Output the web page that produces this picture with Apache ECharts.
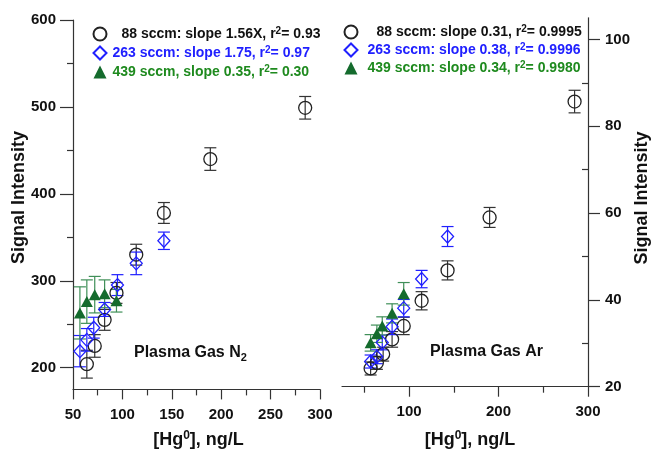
<!DOCTYPE html>
<html><head><meta charset="utf-8">
<script src="https://cdn.jsdelivr.net/npm/echarts@6/dist/echarts.min.js"></script>
<style>html,body{margin:0;padding:0;background:#fff}#c{width:655px;height:453px}</style>
</head><body><div id="c"></div>
<script>
const FONT = '"Liberation Sans", Arial, Helvetica, sans-serif';

// ---- Plasma gas N2 panel ----
const n2_88_x  = [64, 72, 82, 94, 114, 142, 189, 285];
const n2_88_y  = [204, 225, 255, 286, 330, 378, 440, 499];
const n2_88_e  = [16, 13, 12, 12, 12, 12, 13, 13];
const n2_263_x = [57, 64, 71, 82, 95, 114, 142];
const n2_263_y = [219, 232, 246, 267, 295, 320, 346];
const n2_263_e = [18, 13, 12, 8, 12, 13, 10];
const n2_439_x = [57, 64, 72, 82, 94];
const n2_439_y = [263, 276, 284, 285, 277];
const n2_439_e = [30, 25, 21, 16, 13];

// ---- Plasma gas Ar panel ----
const ar_88_x  = [57, 64, 71, 81, 94, 114, 143, 190, 285];
const ar_88_y  = [24.2, 25.5, 27.5, 30.9, 34.0, 39.8, 46.8, 59.0, 85.7];
const ar_88_e  = [1.5, 1.5, 1.6, 1.8, 2.0, 2.1, 2.2, 2.3, 2.6];
const ar_263_x = [57, 64, 70, 81, 94, 114, 143];
const ar_263_y = [25.8, 26.9, 30.2, 33.8, 38.1, 44.8, 54.6];
const ar_263_e = [1.5, 1.6, 1.7, 1.8, 2.0, 2.0, 2.3];
const ar_439_x = [57, 64, 70, 81, 94];
const ar_439_y = [30.1, 32.2, 34.0, 36.9, 41.4];
const ar_439_e = [1.9, 2.0, 2.1, 2.2, 2.6];

// ---- ticks ----
const n2_x_major = [50, 100, 150, 200, 250, 300];
const n2_x_minor = [75, 125, 175, 225, 275];
const n2_y_major = [200, 300, 400, 500, 600];
const n2_y_minor = [250, 350, 450, 550];
const ar_x_major = [100, 200, 300];
const ar_x_minor = [50, 150, 250];
const ar_y_major = [20, 40, 60, 80, 100];
const ar_y_minor = [30, 50, 70, 90];

// ---- legend texts ----
const legendText = {
  'N2 88':  '{padL2| }88 sccm: slope 1.56X, r{sup|2}= 0.93',
  'N2 263': '{padL| }263 sccm: slope 1.75, r{sup|2}= 0.97',
  'N2 439': '{padL| }439 sccm, slope 0.35, r{sup|2}= 0.30',
  'Ar 88':  '{padR2| }88 sccm: slope 0.31, r{sup|2}= 0.9995',
  'Ar 263': '{padR| }263 sccm: slope 0.38, r{sup|2}= 0.9996',
  'Ar 439': '{padR| }439 sccm: slope 0.34, r{sup|2}= 0.9980'
};

const C_BLACK = '#222', C_BLUE = '#2020ff', C_GREEN = '#146b2d', C_GREEN_ERR = '#3f8f58', C_GREEN_TXT = '#1e8a1e';

function zip3(a, b, c) { return a.map((v, i) => [v, b[i], c[i]]); }

function errRender(color) {
  return function (params, api) {
    const x = api.value(0), y = api.value(1), e = api.value(2);
    const p1 = api.coord([x, y + e]), p2 = api.coord([x, y - e]);
    const hw = 6;
    const st = { stroke: color, lineWidth: 1.2 };
    return { type: 'group', children: [
      { type: 'line', shape: { x1: p1[0], y1: p1[1], x2: p2[0], y2: p2[1] }, style: st },
      { type: 'line', shape: { x1: p1[0] - hw, y1: p1[1], x2: p1[0] + hw, y2: p1[1] }, style: st },
      { type: 'line', shape: { x1: p2[0] - hw, y1: p2[1], x2: p2[0] + hw, y2: p2[1] }, style: st }
    ]};
  };
}

const lineSt = { color: '#333', width: 1.2 };
const labelSt = { color: '#111', fontFamily: FONT, fontSize: 15, fontWeight: 'bold' };

function majorAxis(grid, pos, min, max, ticks, len, margin) {
  return {
    type: 'value', gridIndex: grid, position: pos, min: min, max: max,
    axisLine: { show: true, onZero: false, lineStyle: lineSt },
    axisTick: { show: true, length: len, customValues: ticks, lineStyle: lineSt },
    axisLabel: Object.assign({ show: true, customValues: ticks, margin: margin }, labelSt),
    splitLine: { show: false }
  };
}
function minorAxis(grid, pos, min, max, ticks, inside) {
  return {
    type: 'value', gridIndex: grid, position: pos, min: min, max: max,
    axisLine: { show: false, onZero: false },
    axisTick: { show: true, length: 6, inside: !!inside, customValues: ticks, lineStyle: lineSt },
    axisLabel: { show: false },
    splitLine: { show: false }
  };
}

function scatter(name, xi, yi, xs, ys, symbol, size, fill, border) {
  return {
    type: 'scatter', name: name, xAxisIndex: xi, yAxisIndex: yi,
    data: xs.map((v, i) => [v, ys[i]]), symbol: symbol, symbolSize: size,
    itemStyle: { color: fill, borderColor: border, borderWidth: border ? 1.3 : 0, opacity: 1 },
    z: 3
  };
}
function errSeries(xi, yi, xs, ys, es, color) {
  return { type: 'custom', xAxisIndex: xi, yAxisIndex: yi, data: zip3(xs, ys, es),
           renderItem: errRender(color), z: 2, silent: true };
}

const legendTextStyle = {
  fontFamily: FONT, fontSize: 14, fontWeight: 'bold', lineHeight: 16,
  rich: {
    sup: { fontFamily: FONT, fontSize: 10, fontWeight: 'bold', lineHeight: 10, verticalAlign: 'top' },
    padL: { width: 1 },
    padL2: { width: 10 },
    padR: { width: 5 },
    padR2: { width: 14 }
  }
};

const titleFont = { fontFamily: FONT, fontSize: 18, fontWeight: 'bold', fill: '#111' };
const richSup = { sup: { fontFamily: FONT, fontSize: 12, fontWeight: 'bold', lineHeight: 12, verticalAlign: 'top', fill: '#111' } };
const richSub = { sub: { fontFamily: FONT, fontSize: 11, fontWeight: 'bold', lineHeight: 11, verticalAlign: 'bottom', fill: '#111' } };

const option = {
  animation: false,
  backgroundColor: '#fff',
  grid: [
    { left: 73, top: 20, width: 247, height: 369.4 },
    { left: 342, top: 17.8, width: 246, height: 368.9 }
  ],
  xAxis: [
    majorAxis(0, 'bottom', 50, 300, n2_x_major, 10, 18),
    minorAxis(0, 'bottom', 50, 300, n2_x_minor),
    majorAxis(1, 'bottom', 25, 300, ar_x_major, 10, 18),
    minorAxis(1, 'bottom', 25, 300, ar_x_minor)
  ],
  yAxis: [
    majorAxis(0, 'left', 175, 600, n2_y_major, 13, 17),
    minorAxis(0, 'left', 175, 600, n2_y_minor),
    majorAxis(1, 'right', 20, 105, ar_y_major, 12, 17),
    minorAxis(1, 'right', 20, 105, ar_y_minor, true)
  ],
  legend: [
    { orient: 'vertical', left: 87.5, top: 21, itemWidth: 13, itemHeight: 13, itemGap: 3, selectedMode: false,
      data: [ { name: 'N2 88', textStyle: { color: '#111' } },
              { name: 'N2 263', textStyle: { color: C_BLUE } },
              { name: 'N2 439', textStyle: { color: C_GREEN_TXT } } ],
      formatter: n => legendText[n], textStyle: legendTextStyle },
    { orient: 'vertical', left: 338.5, top: 19, itemWidth: 13, itemHeight: 13, itemGap: 2, selectedMode: false,
      data: [ { name: 'Ar 88', textStyle: { color: '#111' } },
              { name: 'Ar 263', textStyle: { color: C_BLUE } },
              { name: 'Ar 439', textStyle: { color: C_GREEN_TXT } } ],
      formatter: n => legendText[n], textStyle: legendTextStyle }
  ],
  graphic: [
    { type: 'text', x: 19.5, y: 197.5, rotation: Math.PI / 2,
      style: Object.assign({ text: 'Signal Intensity', align: 'center', verticalAlign: 'middle' }, titleFont) },
    { type: 'text', x: 642, y: 198, rotation: Math.PI / 2,
      style: Object.assign({ text: 'Signal Intensity', align: 'center', verticalAlign: 'middle' }, titleFont) },
    { type: 'text', x: 198.5, y: 440,
      style: Object.assign({ text: '[Hg{sup|0}], ng/L', align: 'center', verticalAlign: 'middle', lineHeight: 20, rich: richSup }, titleFont) },
    { type: 'text', x: 470, y: 440,
      style: Object.assign({ text: '[Hg{sup|0}], ng/L', align: 'center', verticalAlign: 'middle', lineHeight: 20, rich: richSup }, titleFont) },
    { type: 'text', x: 134, y: 353,
      style: { text: 'Plasma Gas N{sub|2}', fontFamily: FONT, fontSize: 16, fontWeight: 'bold', fill: '#111',
               lineHeight: 20, align: 'left', verticalAlign: 'middle', rich: richSub } },
    { type: 'text', x: 430, y: 352,
      style: { text: 'Plasma Gas Ar', fontFamily: FONT, fontSize: 16, fontWeight: 'bold', fill: '#111',
               align: 'left', verticalAlign: 'middle' } }
  ],
  series: [
    errSeries(0, 0, n2_88_x, n2_88_y, n2_88_e, '#333'),
    errSeries(0, 0, n2_263_x, n2_263_y, n2_263_e, C_BLUE),
    errSeries(0, 0, n2_439_x, n2_439_y, n2_439_e, C_GREEN_ERR),
    scatter('N2 88', 0, 0, n2_88_x, n2_88_y, 'circle', 13, 'rgba(0,0,0,0)', C_BLACK),
    scatter('N2 263', 0, 0, n2_263_x, n2_263_y, 'diamond', [12, 13], 'rgba(0,0,0,0)', C_BLUE),
    scatter('N2 439', 0, 0, n2_439_x, n2_439_y, 'triangle', [12, 11], C_GREEN, null),

    errSeries(2, 2, ar_88_x, ar_88_y, ar_88_e, '#333'),
    errSeries(2, 2, ar_263_x, ar_263_y, ar_263_e, C_BLUE),
    errSeries(2, 2, ar_439_x, ar_439_y, ar_439_e, C_GREEN_ERR),
    scatter('Ar 88', 2, 2, ar_88_x, ar_88_y, 'circle', 13, 'rgba(0,0,0,0)', C_BLACK),
    scatter('Ar 263', 2, 2, ar_263_x, ar_263_y, 'diamond', [12, 13], 'rgba(0,0,0,0)', C_BLUE),
    scatter('Ar 439', 2, 2, ar_439_x, ar_439_y, 'triangle', [12, 11], C_GREEN, null)
  ]
};

const chart = echarts.init(document.getElementById('c'), null, { renderer: 'canvas' });
chart.setOption(option);
</script>
</body></html>
